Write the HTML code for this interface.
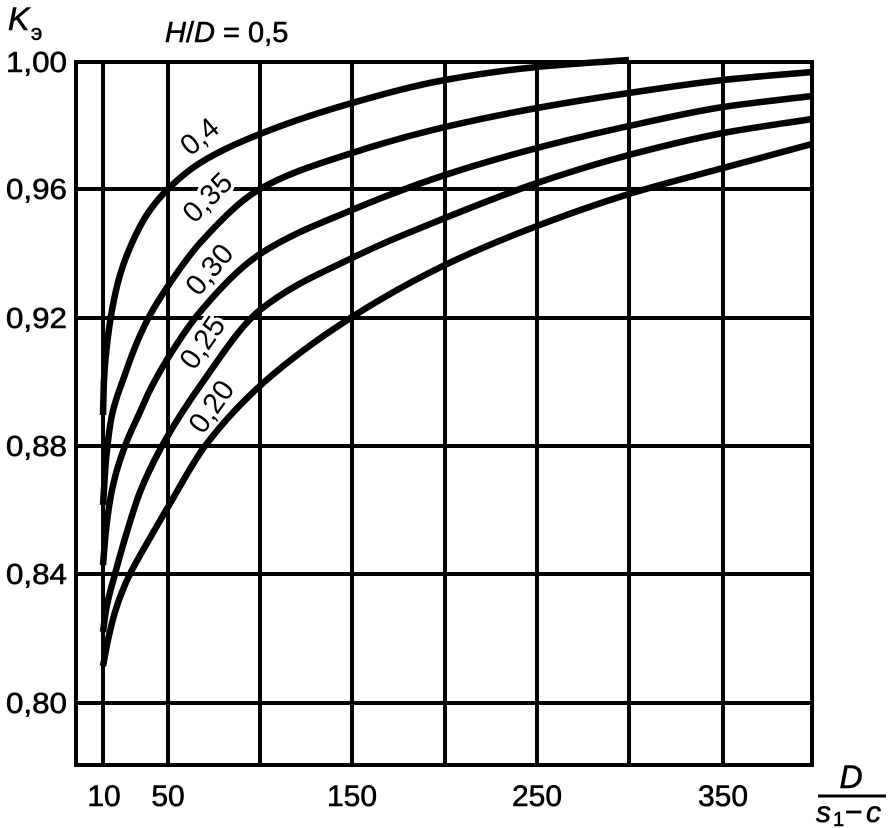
<!DOCTYPE html>
<html><head><meta charset="utf-8"><style>
body{margin:0;background:#fff}
svg{display:block}
text{font-family:"Liberation Sans",sans-serif;fill:#000;stroke:#000;stroke-width:0.6}
.lb text{stroke:#fff;stroke-width:7;paint-order:stroke;stroke-linejoin:round}
</style></head><body>
<svg id="s" width="888" height="828" viewBox="0 0 888 828">
<g stroke="#000" stroke-width="4" fill="none">
<line x1="76" y1="62" x2="814" y2="62"/>
<line x1="76" y1="189" x2="814" y2="189"/>
<line x1="76" y1="318" x2="814" y2="318"/>
<line x1="76" y1="446" x2="814" y2="446"/>
<line x1="76" y1="574" x2="814" y2="574"/>
<line x1="76" y1="703" x2="814" y2="703"/>
<line x1="76" y1="765" x2="814" y2="765"/>
<line x1="76" y1="60" x2="76" y2="767"/>
<line x1="103" y1="60" x2="103" y2="767"/>
<line x1="168" y1="60" x2="168" y2="767"/>
<line x1="260" y1="60" x2="260" y2="767"/>
<line x1="352" y1="60" x2="352" y2="767"/>
<line x1="445" y1="60" x2="445" y2="767"/>
<line x1="537" y1="60" x2="537" y2="767"/>
<line x1="629" y1="60" x2="629" y2="767"/>
<line x1="723" y1="60" x2="723" y2="767"/>
<line x1="812" y1="60" x2="812" y2="767"/>
</g>
<g class="lb" font-size="29" text-anchor="middle" dominant-baseline="central">
<text transform="translate(200,137) rotate(-40)">0,4</text>
<text transform="translate(208,198) rotate(-45)">0,35</text>
<text transform="translate(210,270) rotate(-50)">0,30</text>
<text transform="translate(203,343) rotate(-55)">0,25</text>
<text transform="translate(212,407) rotate(-55)">0,20</text>
</g>
<g id="curves" stroke="#000" stroke-width="6.5" fill="none" stroke-linejoin="round"></g>
<g font-size="29" text-anchor="end">
<text x="67" y="72" textLength="61" lengthAdjust="spacingAndGlyphs">1,00</text>
<text x="67" y="199" textLength="61" lengthAdjust="spacingAndGlyphs">0,96</text>
<text x="67" y="328" textLength="61" lengthAdjust="spacingAndGlyphs">0,92</text>
<text x="67" y="456" textLength="61" lengthAdjust="spacingAndGlyphs">0,88</text>
<text x="67" y="584" textLength="61" lengthAdjust="spacingAndGlyphs">0,84</text>
<text x="67" y="713" textLength="61" lengthAdjust="spacingAndGlyphs">0,80</text>
</g>
<g font-size="30" text-anchor="middle">
<text x="104" y="806">10</text>
<text x="168" y="806">50</text>
<text x="352" y="806">150</text>
<text x="537" y="806">250</text>
<text x="723" y="806">350</text>
</g>
<text x="8" y="30" font-size="32" font-style="italic">K</text>
<text x="31" y="40" font-size="22">э</text>
<text x="165" y="42" font-size="29"><tspan font-style="italic">H</tspan>/<tspan font-style="italic">D</tspan> = 0,5</text>
<text x="851" y="788" font-size="32" font-style="italic" text-anchor="middle">D</text>
<line x1="818" y1="796" x2="886" y2="796" stroke="#000" stroke-width="3"/>
<text x="816" y="822" font-size="30" font-style="italic">s</text>
<text x="833" y="826" font-size="20">1</text>
<text x="845" y="822" font-size="30">−</text>
<text x="866" y="822" font-size="30" font-style="italic">c</text>
</svg>
<script>
var C=[
[[103,415],[104,380],[107,345],[112,310],[120,275],[132,243],[148,213],[168,189],[200,163],[260,134],[352,103],[445,80],[537,67],[629,60]],
[[103,505],[106,460],[112,415],[123,380],[138,340],[150,315],[168,286],[200,243],[260,189],[352,153],[445,127],[537,108],[629,93],[723,80],[812,72]],
[[103,565],[106,530],[112,490],[125,446],[140,412],[150,390],[168,358],[200,312],[260,254],[352,210],[445,175],[537,148],[629,126],[723,107],[812,96]],
[[103,632],[106,610],[115,574],[126,535],[140,492],[162,446],[200,386],[260,310],[352,258],[445,218],[537,183],[629,155],[723,133],[812,119]],
[[103,666],[108,640],[115,612],[122,592],[130,574],[150,538],[168,507],[205,446],[262,384],[352,317],[445,265],[537,226],[629,194],[723,168],[812,144]]];
var g=document.getElementById('curves'),ns='http://www.w3.org/2000/svg';
C.forEach(function(p){
var n=p.length,d=[],m=[],i;
for(i=0;i<n-1;i++)d.push((p[i+1][1]-p[i][1])/(p[i+1][0]-p[i][0]));
m[0]=d[0];m[n-1]=d[n-2];
for(i=1;i<n-1;i++){ if(d[i-1]*d[i]<=0)m[i]=0; else {var h0=p[i][0]-p[i-1][0],h1=p[i+1][0]-p[i][0],w1=2*h1+h0,w2=h1+2*h0;m[i]=(w1+w2)/(w1/d[i-1]+w2/d[i]);}}
var s='M'+p[0][0]+','+p[0][1];
for(i=0;i<n-1;i++){var h=p[i+1][0]-p[i][0];
s+=' C'+(p[i][0]+h/3)+','+(p[i][1]+m[i]*h/3)+' '+(p[i+1][0]-h/3)+','+(p[i+1][1]-m[i+1]*h/3)+' '+p[i+1][0]+','+p[i+1][1];}
var el=document.createElementNS(ns,'path');el.setAttribute('d',s);g.appendChild(el);});
</script>
</body></html>
